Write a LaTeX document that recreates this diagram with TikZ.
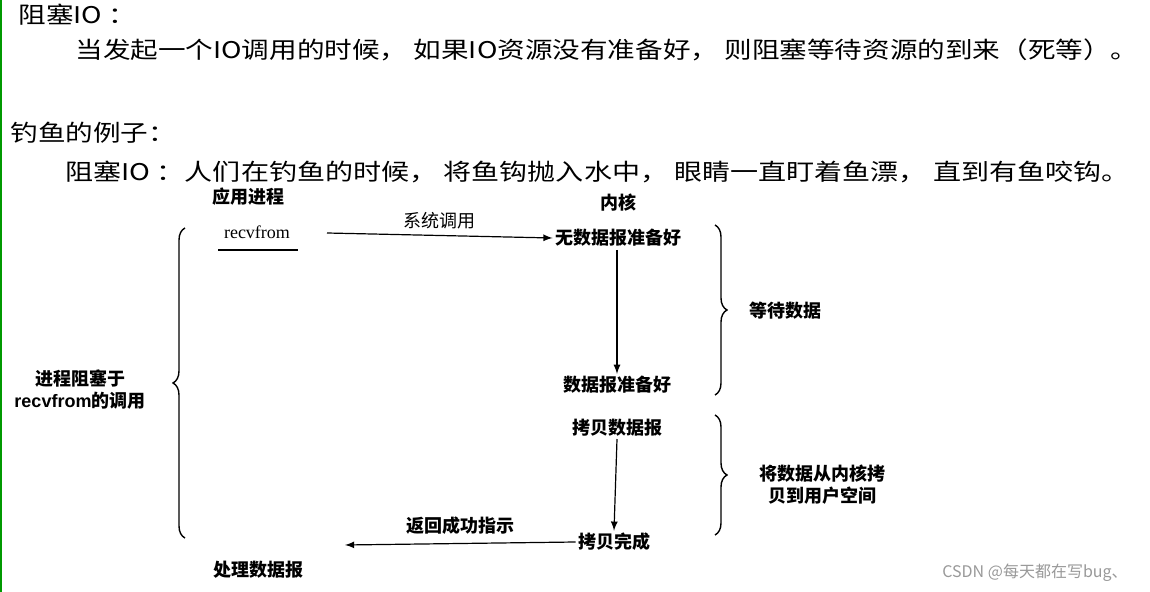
\documentclass[tikz,border=0pt]{standalone}
\usepackage{fontspec}
\setmainfont{Liberation Serif}
\newfontfamily\cjk{Noto Sans CJK SC}
\usetikzlibrary{decorations.pathreplacing}
\begin{document}
\begin{tikzpicture}[x=0.5pt,y=-0.5pt,
  big/.style={font=\cjk\fontsize{11.5}{13}\selectfont,anchor=west,inner sep=0},
  lab/.style={font=\cjk\bfseries\fontsize{9}{11}\selectfont,inner sep=1pt,align=center},
  arr/.style={-latex,line width=0.6pt},
  br/.style={decorate,decoration={brace,amplitude=6pt},line width=0.7pt}]
\useasboundingbox (0,0) rectangle (1150,592);
\fill[white] (0,0) rectangle (1150,592);
\draw[green!60!black,line width=1pt] (1,0) -- (1,592);
\node[big] (t1) at (18,15) {\scalebox{1.2}[1]{阻塞IO ：}};
\node[big] (t2) at (75,50) {\scalebox{1.2}[1]{当发起一个IO调用的时候， 如果IO资源没有准备好， 则阻塞等待资源的到来（死等）。}};
\node[big] (t3) at (10,133) {\scalebox{1.2}[1]{钓鱼的例子：}};
\node[big] (t4) at (65,172) {\scalebox{1.22}[1]{阻塞IO ：人们在钓鱼的时候， 将鱼钩抛入水中， 眼睛一直盯着鱼漂， 直到有鱼咬钩。}};
\node[lab] (app) at (248,197) {应用进程};
\node[lab] (ker) at (618,203) {内核};
\node[lab,font=\fontsize{9}{11}\selectfont] (rv) at (257,232) {recvfrom};
\draw[line width=0.8pt] (218,250) -- (298,250);
\node[lab] (nd) at (618,238) {无数据报准备好};
\draw[arr] (327,233) -- (nd.west) node[midway,above=2pt,lab,font=\cjk\fontsize{9}{11}\selectfont] {系统调用};
\node[lab] (ready) at (617,385) {数据报准备好};
\draw[arr] (617,250) -- (ready.north);
\node[lab] (copy) at (617,428) {拷贝数据报};
\node[lab] (done) at (614,542) {拷贝完成};
\draw[arr] (copy.south) -- (done.north);
\node[lab] (proc) at (258,570) {处理数据报};
\coordinate (ret) at (345,545);
\draw[arr] (done.west) -- (ret) node[midway,above=3pt,lab] {返回成功指示};
\draw[br] (715,225) -- (715,395);
\node[lab] (wait) at (785,311) {等待数据};
\draw[br] (715,415) -- (715,535);
\node[lab] (cp) at (822,485) {将数据从内核拷\\贝到用户空间};
\draw[br] (185,538) -- (185,228);
\node[lab] (blk) at (80,390) {进程阻塞于\\\fontspec{Liberation Sans}\bfseries recvfrom\cjk 的调用};
\node[font=\cjk\fontsize{8}{10}\selectfont,text=gray!80,inner sep=0] (wm) at (1035,573) {CSDN @每天都在写bug、};
\end{tikzpicture}
\end{document}
